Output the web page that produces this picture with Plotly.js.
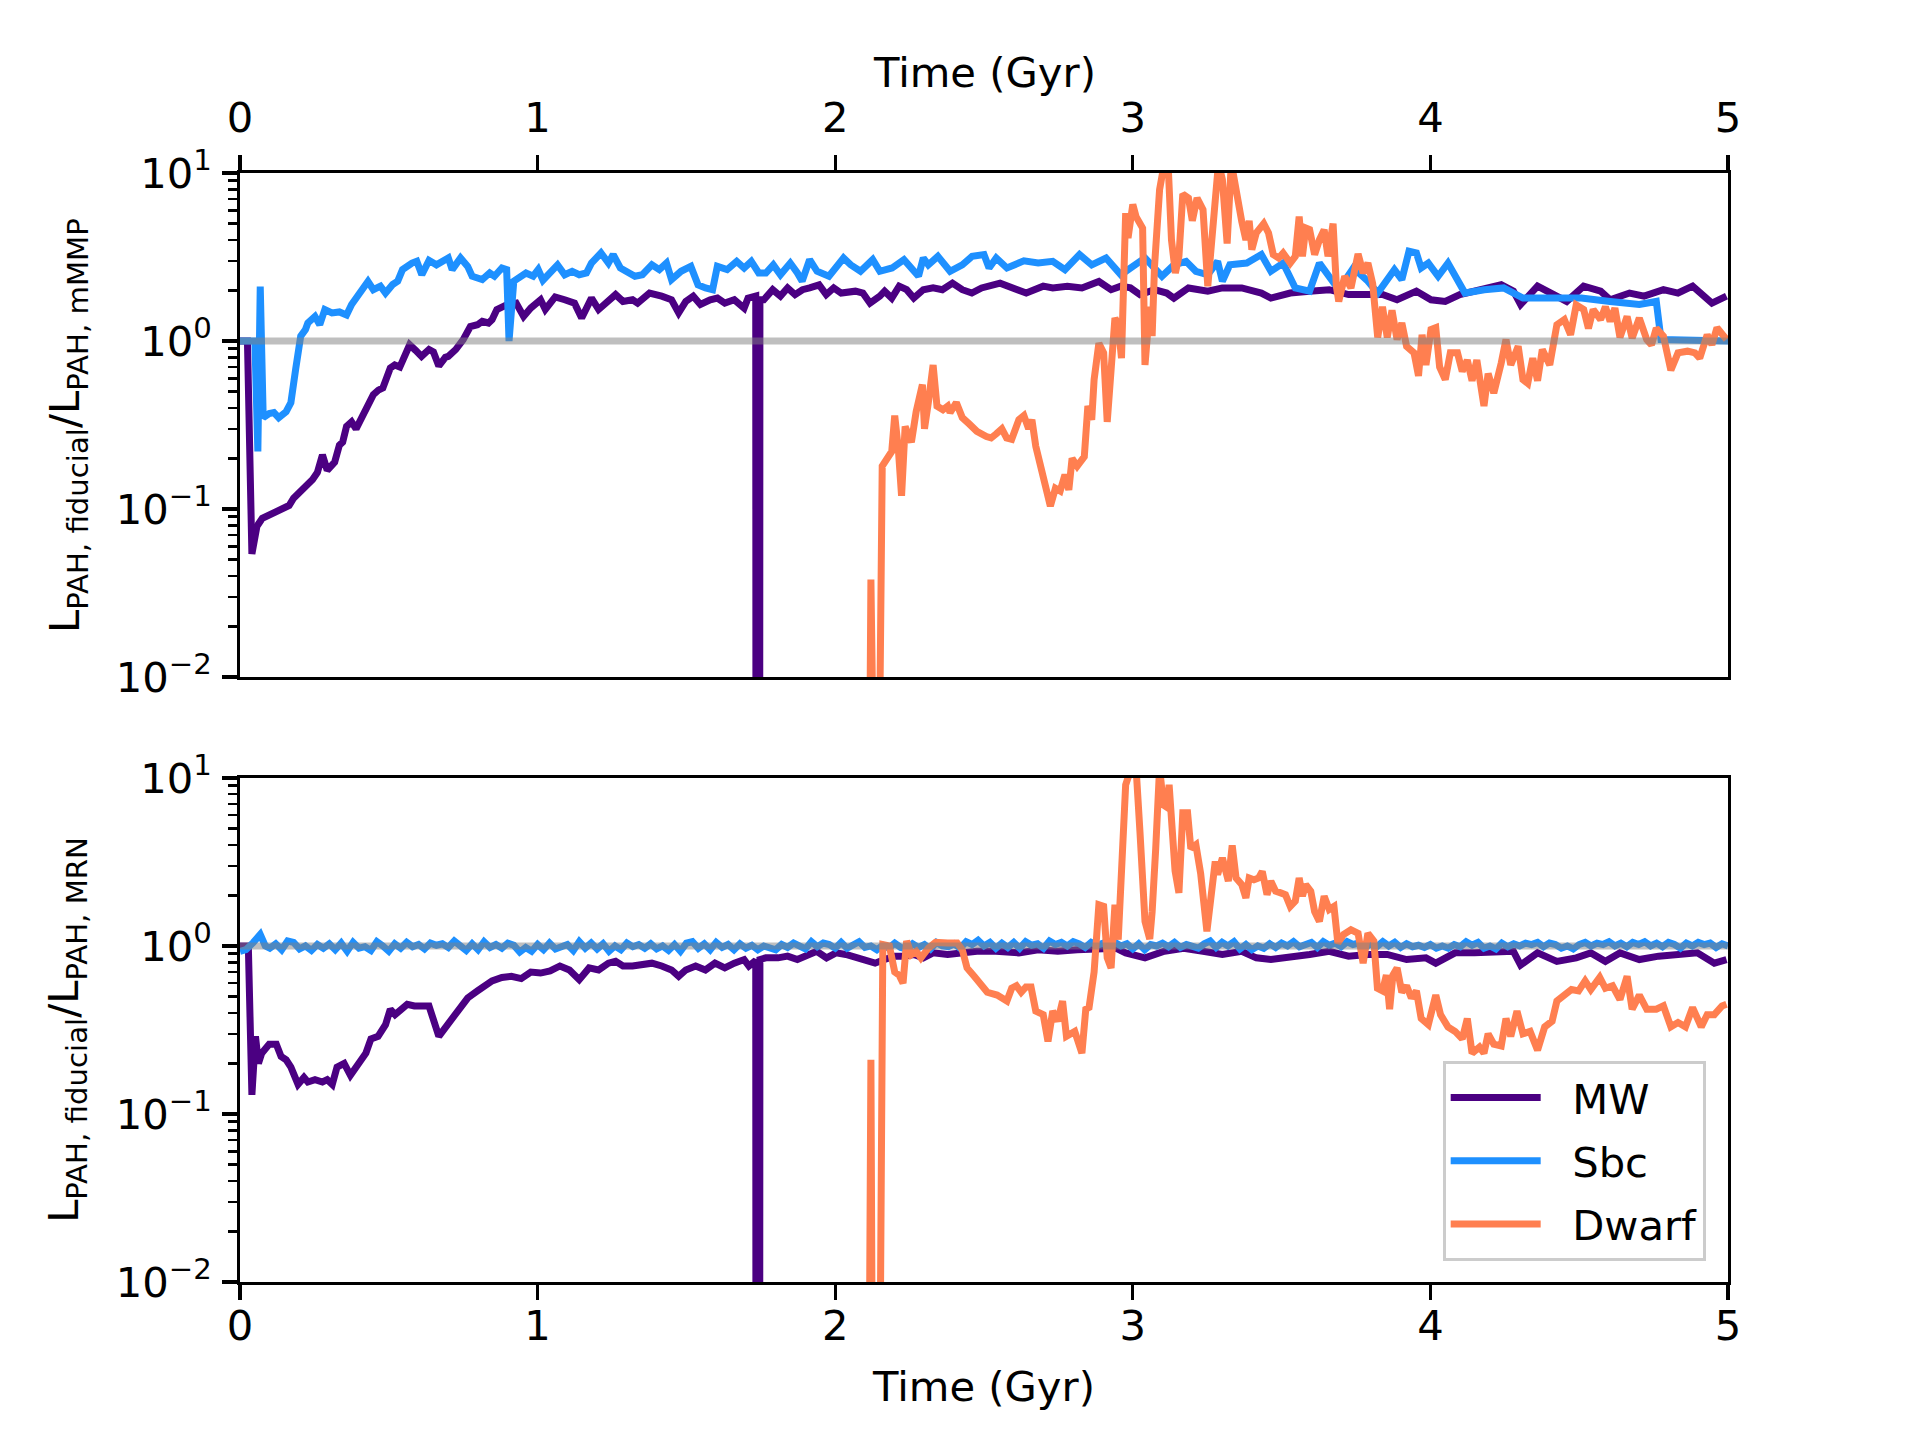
<!DOCTYPE html>
<html>
<head>
<meta charset="utf-8">
<script src="https://cdn.plot.ly/plotly-3.0.1.min.js"></script>
<style>html,body{margin:0;padding:0;background:#fff;}#chart{width:1920px;height:1440px;}</style>
</head>
<body>
<div id="chart"></div>
<script>
// ---------- Data ----------
const seriesNames = ["MW", "Sbc", "Dwarf"];
const seriesColors = ["#4B0082", "#1E90FF", "#FF7F50"];
const yTickVals = [0.01, 0.1, 1, 10];
const yTickText = ["10<sup>−2</sup>", "10<sup>−1</sup>", "10<sup>0</sup>", "10<sup>1</sup>"];
const xTickVals = [0, 1, 2, 3, 4, 5];
const xTitle = "Time (Gyr)";
const yTitleTop = "L<sub>PAH, fiducial</sub>/L<sub>PAH, mMMP</sub>";
const yTitleBottom = "L<sub>PAH, fiducial</sub>/L<sub>PAH, MRN</sub>";

// Top panel (fiducial / mMMP)
const topMW_t = [0,0.025,0.04,0.057,0.075,0.098,0.12,0.147,0.165,0.18,0.2,0.21,0.23,0.244,0.26,0.277,0.293,0.31,0.318,0.334,0.345,0.358,0.375,0.39,0.415,0.43,0.448,0.465,0.48,0.505,0.52,0.537,0.57,0.59,0.61,0.635,0.65,0.668,0.69,0.70,0.725,0.75,0.774,0.798,0.814,0.835,0.847,0.863,0.896,0.928,0.953,0.977,1.01,1.026,1.059,1.091,1.124,1.148,1.181,1.205,1.238,1.262,1.287,1.319,1.336,1.376,1.417,1.45,1.474,1.498,1.523,1.547,1.58,1.604,1.629,1.661,1.694,1.707,1.733,1.734,1.746,1.747,1.76,1.79,1.816,1.84,1.865,1.89,1.914,1.946,1.97,1.995,2.02,2.068,2.093,2.117,2.15,2.166,2.19,2.215,2.24,2.264,2.296,2.329,2.36,2.394,2.427,2.459,2.492,2.524,2.554,2.642,2.699,2.731,2.78,2.829,2.886,2.927,2.96,2.992,3.024,3.073,3.114,3.138,3.187,3.252,3.301,3.366,3.399,3.432,3.464,3.529,3.594,3.66,3.725,3.79,3.839,3.888,3.953,4.002,4.05,4.099,4.164,4.238,4.279,4.303,4.36,4.409,4.458,4.515,4.572,4.604,4.669,4.718,4.783,4.832,4.881,4.946,4.995];
const topMW_v = [1.0,1.0,0.054,0.079,0.088,0.092,0.095,0.099,0.105,0.116,0.125,0.133,0.14,0.15,0.165,0.21,0.17,0.18,0.19,0.24,0.25,0.31,0.33,0.30,0.37,0.42,0.48,0.51,0.525,0.69,0.72,0.70,0.95,0.88,0.81,0.89,0.86,0.71,0.80,0.81,0.89,1.02,1.22,1.25,1.31,1.28,1.34,1.54,1.64,1.68,1.40,1.57,1.76,1.54,1.83,1.76,1.68,1.37,1.80,1.54,1.76,1.89,1.72,1.76,1.68,1.93,1.85,1.76,1.47,1.72,1.85,1.65,1.76,1.80,1.68,1.76,1.57,1.80,1.85,1e-4,1e-4,1.76,1.76,2.02,1.85,2.07,1.89,2.02,2.07,2.16,1.89,2.07,1.93,1.98,1.93,1.68,1.85,1.98,1.80,2.12,2.02,1.80,2.02,2.07,2.02,2.21,2.02,1.93,2.07,2.16,2.21,1.93,2.12,2.07,2.12,2.07,2.26,2.02,2.12,2.07,1.89,2.02,1.93,1.80,2.07,1.98,2.07,2.07,1.98,1.93,1.80,1.93,1.98,2.02,1.89,1.89,1.89,1.76,1.98,1.76,1.72,1.89,2.02,2.16,1.98,1.65,2.12,1.93,1.72,2.12,1.98,1.76,1.93,1.85,2.02,1.93,2.12,1.68,1.85];

const topSbc_t = [0,0.05,0.06,0.068,0.078,0.098,0.114,0.13,0.155,0.171,0.187,0.204,0.22,0.228,0.252,0.268,0.285,0.309,0.334,0.358,0.375,0.4,0.43,0.448,0.472,0.489,0.513,0.53,0.546,0.578,0.594,0.611,0.635,0.66,0.684,0.7,0.713,0.741,0.765,0.78,0.814,0.839,0.855,0.88,0.896,0.904,0.92,0.945,0.961,0.985,1.002,1.018,1.042,1.067,1.091,1.116,1.14,1.164,1.181,1.213,1.238,1.254,1.278,1.303,1.327,1.352,1.384,1.409,1.433,1.45,1.482,1.515,1.539,1.564,1.588,1.604,1.637,1.669,1.694,1.718,1.743,1.767,1.792,1.816,1.849,1.873,1.889,1.914,1.939,1.979,2.028,2.052,2.085,2.126,2.15,2.191,2.231,2.28,2.296,2.313,2.345,2.386,2.427,2.46,2.5,2.517,2.541,2.577,2.634,2.682,2.731,2.772,2.821,2.862,2.91,2.96,3.008,3.041,3.098,3.138,3.179,3.212,3.252,3.285,3.301,3.326,3.383,3.432,3.464,3.505,3.546,3.594,3.627,3.66,3.692,3.741,3.79,3.823,3.879,3.904,3.928,3.953,3.969,3.993,4.026,4.059,4.1,4.116,4.181,4.246,4.311,4.409,4.507,4.604,4.702,4.759,4.775,5.0];
const topSbc_v = [1.0,1.0,0.22,2.11,0.35,0.37,0.375,0.35,0.38,0.43,0.68,1.07,1.17,1.28,1.40,1.25,1.54,1.47,1.49,1.43,1.65,1.93,2.26,2.02,2.12,1.93,2.17,2.27,2.66,2.91,2.98,2.48,3.02,2.84,2.98,3.12,2.66,3.12,2.78,2.43,2.32,2.54,2.43,2.72,2.66,1.0,2.27,2.43,2.54,2.43,2.66,2.30,2.54,2.84,2.48,2.60,2.48,2.54,2.91,3.34,2.91,3.27,2.72,2.54,2.43,2.48,2.84,2.66,2.91,2.32,2.60,2.78,2.16,2.07,2.02,2.78,2.66,2.98,2.72,2.98,2.54,2.54,2.84,2.48,2.91,2.54,2.27,3.05,2.60,2.43,3.12,2.84,2.60,3.05,2.60,2.72,3.05,2.43,3.12,2.84,3.19,2.60,2.84,3.19,3.27,2.72,3.12,2.72,3.0,2.91,2.98,2.66,3.27,2.84,3.12,2.48,2.84,3.12,2.43,2.84,2.98,2.60,2.48,2.98,2.27,2.84,2.91,3.27,2.60,2.91,2.07,1.98,2.91,2.38,2.02,2.72,2.27,1.93,2.66,2.32,3.42,3.34,2.72,2.91,2.43,2.91,2.12,1.93,2.02,2.07,1.80,1.80,1.80,1.72,1.65,1.72,1.02,1.0];

const topDwarf_t = [2.11,2.12,2.125,2.14,2.158,2.19,2.2,2.212,2.223,2.235,2.256,2.272,2.293,2.3,2.313,2.329,2.342,2.362,2.378,2.386,2.407,2.427,2.451,2.476,2.508,2.524,2.541,2.56,2.576,2.593,2.617,2.634,2.65,2.661,2.674,2.69,2.707,2.723,2.74,2.756,2.772,2.785,2.796,2.813,2.837,2.849,2.862,2.87,2.886,2.902,2.914,2.927,2.94,2.951,2.962,2.976,2.984,3.0,3.011,3.033,3.041,3.057,3.065,3.073,3.09,3.106,3.119,3.13,3.143,3.155,3.168,3.187,3.2,3.216,3.236,3.252,3.265,3.277,3.288,3.301,3.317,3.331,3.35,3.366,3.38,3.391,3.4,3.415,3.44,3.456,3.472,3.49,3.505,3.529,3.546,3.559,3.57,3.581,3.594,3.611,3.627,3.643,3.656,3.673,3.684,3.692,3.712,3.733,3.757,3.774,3.79,3.806,3.823,3.839,3.855,3.871,3.888,3.904,3.92,3.945,3.96,3.972,3.985,4.002,4.018,4.031,4.05,4.067,4.091,4.107,4.124,4.14,4.156,4.18,4.194,4.213,4.238,4.254,4.27,4.295,4.311,4.327,4.344,4.36,4.376,4.401,4.425,4.45,4.471,4.49,4.515,4.531,4.547,4.572,4.588,4.604,4.62,4.637,4.661,4.678,4.702,4.727,4.743,4.759,4.783,4.808,4.832,4.864,4.889,4.905,4.93,4.946,4.963,4.995];
const topDwarf_v = [1e-4,0.038,1e-4,1e-4,0.18,0.22,0.36,0.23,0.12,0.31,0.25,0.38,0.55,0.30,0.43,0.72,0.41,0.39,0.41,0.375,0.43,0.35,0.32,0.29,0.27,0.265,0.28,0.30,0.265,0.26,0.34,0.36,0.30,0.34,0.236,0.18,0.13,0.104,0.133,0.128,0.16,0.13,0.2,0.18,0.205,0.41,0.34,0.59,0.97,0.85,0.33,0.62,1.37,1.25,0.79,5.77,4.1,6.5,5.5,4.7,0.72,1.6,1.07,2.78,7.95,11.5,11.0,4.0,2.54,3.19,7.5,7.1,5.2,7.1,6.05,2.12,4.0,5.65,11.5,9.13,3.8,11.5,7.0,5.15,4.0,5.2,3.5,4.4,5.0,4.4,3.27,3.12,3.34,2.91,3.19,5.5,3.19,4.7,4.6,3.27,4.0,4.6,3.19,5.0,2.12,1.72,2.43,2.07,3.3,2.54,2.91,2.2,1.05,1.6,1.05,1.52,1.02,1.28,0.93,0.85,0.62,1.09,0.72,1.17,1.2,0.70,0.59,0.85,0.85,0.66,0.77,0.58,0.77,0.41,0.64,0.49,0.74,1.02,0.72,0.93,0.59,0.56,0.79,0.58,0.89,0.72,1.25,1.34,1.09,1.64,1.54,1.19,1.54,1.34,1.6,1.31,1.57,1.05,1.4,1.04,1.37,1.02,0.95,1.19,1.07,0.67,0.85,0.87,0.85,0.79,1.09,0.95,1.2,1.02];

// Bottom panel (fiducial / MRN)
const botMW_t = [0,0.028,0.04,0.052,0.062,0.073,0.098,0.122,0.138,0.155,0.171,0.195,0.215,0.228,0.252,0.277,0.293,0.31,0.326,0.35,0.371,0.399,0.423,0.44,0.464,0.489,0.505,0.521,0.537,0.562,0.586,0.611,0.635,0.668,0.692,0.717,0.741,0.765,0.798,0.822,0.847,0.88,0.912,0.945,0.977,1.01,1.042,1.075,1.107,1.14,1.173,1.205,1.238,1.262,1.287,1.319,1.352,1.384,1.417,1.45,1.474,1.498,1.531,1.564,1.596,1.629,1.661,1.694,1.71,1.733,1.734,1.746,1.747,1.767,1.808,1.84,1.873,1.906,1.938,1.971,2.003,2.036,2.068,2.101,2.134,2.166,2.199,2.231,2.264,2.296,2.329,2.378,2.427,2.476,2.54,2.617,2.682,2.748,2.813,2.878,2.943,2.976,3.041,3.106,3.171,3.236,3.301,3.366,3.415,3.464,3.529,3.594,3.66,3.725,3.79,3.855,3.92,3.985,4.018,4.083,4.148,4.213,4.279,4.303,4.36,4.425,4.49,4.539,4.588,4.637,4.702,4.767,4.832,4.897,4.954,4.995];
const botMW_v = [1.0,1.0,0.13,0.29,0.20,0.23,0.26,0.26,0.22,0.21,0.19,0.15,0.165,0.155,0.16,0.155,0.16,0.15,0.19,0.20,0.17,0.20,0.23,0.28,0.29,0.34,0.42,0.39,0.41,0.45,0.44,0.44,0.44,0.29,0.33,0.37,0.43,0.49,0.54,0.58,0.62,0.65,0.66,0.64,0.70,0.69,0.71,0.76,0.72,0.63,0.74,0.72,0.79,0.81,0.76,0.76,0.77,0.79,0.76,0.72,0.66,0.72,0.76,0.72,0.79,0.74,0.79,0.83,0.76,0.82,1e-4,1e-4,0.83,0.85,0.85,0.87,0.83,0.89,0.93,0.85,0.91,0.89,0.85,0.83,0.79,0.83,0.87,0.87,0.89,0.85,0.91,0.89,0.91,0.93,0.93,0.91,0.95,0.93,0.95,0.95,0.97,0.91,0.85,0.93,0.97,0.93,0.89,0.93,0.85,0.83,0.87,0.89,0.93,0.87,0.89,0.89,0.83,0.85,0.79,0.91,0.91,0.93,0.93,0.77,0.91,0.81,0.85,0.91,0.81,0.91,0.83,0.87,0.89,0.91,0.79,0.83];

const botSbc_t = [0,0.02,0.045,0.068,0.085,0.1,0.12,0.14,0.16,0.18,0.2,0.22,0.24,0.26,0.28,0.3,0.32,0.34,0.36,0.38,0.4,0.42,0.44,0.46,0.48,0.5,0.52,0.54,0.56,0.58,0.6,0.62,0.64,0.66,0.68,0.7,0.72,0.74,0.76,0.78,0.8,0.82,0.84,0.86,0.88,0.9,0.92,0.94,0.96,0.98,1.0,1.02,1.04,1.06,1.08,1.1,1.12,1.14,1.16,1.18,1.2,1.22,1.24,1.26,1.28,1.3,1.32,1.34,1.36,1.38,1.4,1.42,1.44,1.46,1.48,1.5,1.52,1.54,1.56,1.58,1.6,1.62,1.64,1.66,1.68,1.7,1.72,1.74,1.76,1.78,1.8,1.82,1.84,1.86,1.88,1.9,1.92,1.94,1.96,1.98,2.0,2.02,2.04,2.06,2.08,2.1,2.12,2.14,2.16,2.18,2.2,2.22,2.24,2.26,2.28,2.3,2.32,2.34,2.36,2.38,2.4,2.42,2.44,2.46,2.48,2.5,2.52,2.54,2.56,2.58,2.6,2.62,2.64,2.66,2.68,2.7,2.72,2.74,2.76,2.78,2.8,2.82,2.84,2.86,2.88,2.9,2.92,2.94,2.96,2.98,3.0,3.02,3.04,3.06,3.08,3.1,3.12,3.14,3.16,3.18,3.2,3.22,3.24,3.26,3.28,3.3,3.32,3.34,3.36,3.38,3.4,3.42,3.44,3.46,3.48,3.5,3.52,3.54,3.56,3.58,3.6,3.62,3.64,3.66,3.68,3.7,3.72,3.74,3.76,3.78,3.8,3.82,3.84,3.86,3.88,3.9,3.92,3.94,3.96,3.98,4.0,4.02,4.04,4.06,4.08,4.1,4.12,4.14,4.16,4.18,4.2,4.22,4.24,4.26,4.28,4.3,4.32,4.34,4.36,4.38,4.4,4.42,4.44,4.46,4.48,4.5,4.52,4.54,4.56,4.58,4.6,4.62,4.64,4.66,4.68,4.7,4.72,4.74,4.76,4.78,4.8,4.82,4.84,4.86,4.88,4.9,4.92,4.94,4.96,4.98,5.0];
const botSbc_v = [0.93,0.95,1.05,1.17,1.0,0.97,1.03,0.95,1.07,1.05,0.96,1.0,0.94,1.02,0.97,1.03,0.95,1.04,0.93,1.05,0.97,0.99,0.94,1.06,1.0,0.93,1.03,0.97,1.05,0.99,1.02,0.96,1.04,1.01,1.03,0.98,1.07,1.0,0.94,1.03,0.95,1.06,0.98,1.02,0.97,1.04,1.01,0.92,0.98,0.93,1.02,0.95,1.04,0.96,0.99,1.02,0.94,1.06,0.97,1.04,0.96,1.03,0.93,1.0,0.95,1.04,0.99,1.02,0.97,1.03,0.96,1.0,0.94,1.02,0.93,1.04,1.06,0.97,1.03,0.95,1.05,0.98,1.02,0.95,1.03,0.97,1.01,0.95,1.0,0.97,0.95,1.02,0.98,1.04,1.0,0.96,1.06,0.99,1.04,1.02,0.97,1.05,0.97,1.02,1.06,0.98,1.0,0.95,1.01,0.97,1.04,0.98,0.96,1.03,0.98,1.02,0.96,1.05,1.0,0.99,1.03,0.97,1.06,1.02,1.08,1.0,1.05,0.97,1.04,0.98,1.05,0.97,1.06,1.01,1.03,0.97,1.07,1.02,1.05,1.0,1.06,1.03,0.98,1.05,1.01,1.04,0.97,1.05,1.0,1.03,0.96,1.03,0.95,1.02,1.0,1.04,0.99,1.05,0.98,1.02,0.99,0.97,1.03,1.07,0.98,1.05,1.0,1.06,0.96,1.02,0.95,1.0,0.97,1.03,0.98,1.04,1.0,1.06,0.99,1.03,1.05,0.98,1.06,1.01,1.04,0.99,1.06,1.02,1.04,0.98,1.03,0.99,1.06,1.0,1.05,0.98,1.03,0.99,1.01,0.98,1.02,0.97,1.0,0.97,1.02,0.99,1.06,1.01,1.05,0.97,1.0,0.96,1.04,0.99,1.03,1.0,1.04,1.02,1.05,0.99,1.04,1.02,0.97,1.0,0.96,1.02,1.05,1.0,1.04,1.02,1.06,1.0,1.04,0.99,1.05,1.02,1.06,1.0,1.04,0.99,1.05,1.02,0.97,1.04,1.0,1.05,1.02,1.04,0.98,1.03,1.0];

const botDwarf_t = [2.11,2.12,2.128,2.145,2.16,2.182,2.2,2.215,2.228,2.24,2.256,2.272,2.288,2.313,2.337,2.378,2.41,2.427,2.443,2.467,2.5,2.511,2.544,2.577,2.593,2.609,2.625,2.641,2.658,2.674,2.699,2.715,2.731,2.748,2.764,2.777,2.805,2.829,2.842,2.853,2.87,2.886,2.902,2.914,2.927,2.94,2.951,2.967,2.976,2.995,3.011,3.024,3.041,3.057,3.065,3.077,3.09,3.103,3.114,3.122,3.135,3.142,3.155,3.168,3.184,3.195,3.212,3.228,3.249,3.265,3.277,3.285,3.301,3.321,3.334,3.347,3.366,3.38,3.391,3.407,3.423,3.435,3.451,3.464,3.48,3.497,3.513,3.529,3.546,3.559,3.57,3.581,3.598,3.611,3.627,3.643,3.66,3.676,3.689,3.708,3.733,3.757,3.774,3.79,3.81,3.822,3.839,3.852,3.863,3.874,3.888,3.904,3.92,3.936,3.953,3.969,3.993,4.018,4.034,4.059,4.083,4.107,4.124,4.14,4.165,4.18,4.194,4.213,4.238,4.254,4.27,4.291,4.311,4.335,4.36,4.384,4.409,4.425,4.45,4.474,4.498,4.52,4.539,4.569,4.588,4.612,4.637,4.661,4.678,4.702,4.727,4.759,4.783,4.808,4.832,4.857,4.881,4.91,4.93,4.954,4.98,4.995];
const botDwarf_v = [1e-4,0.21,1e-4,1e-4,1.02,1.0,0.7,0.67,0.6,1.07,0.89,0.93,0.85,0.97,1.05,1.04,1.04,0.95,0.74,0.66,0.56,0.53,0.51,0.47,0.56,0.58,0.53,0.57,0.57,0.41,0.39,0.27,0.41,0.357,0.47,0.29,0.31,0.23,0.42,0.43,0.7,1.76,1.72,0.85,0.74,1.76,1.09,3.6,9.1,11.5,11.5,4.8,1.4,1.1,1.6,3.8,11.5,6.9,6.7,9.1,4.8,2.8,2.07,6.2,6.2,3.8,4.0,2.7,1.22,2.27,3.19,2.66,3.34,2.43,3.97,2.54,2.32,1.93,2.54,2.48,2.54,2.78,2.02,2.43,2.12,2.07,2.02,1.72,1.85,2.54,1.98,2.32,2.12,1.60,1.40,1.98,1.65,1.72,1.04,1.17,1.25,1.19,0.79,1.19,1.07,0.56,0.54,0.67,0.42,0.67,0.74,0.53,0.58,0.49,0.54,0.37,0.34,0.51,0.39,0.33,0.31,0.28,0.37,0.23,0.25,0.23,0.30,0.26,0.254,0.37,0.29,0.41,0.30,0.31,0.24,0.33,0.357,0.47,0.51,0.55,0.54,0.62,0.55,0.65,0.56,0.58,0.48,0.66,0.42,0.51,0.42,0.42,0.44,0.33,0.35,0.33,0.43,0.33,0.39,0.39,0.44,0.45];

// Reference line at ratio = 1
const refLine_t = [0, 5];
const refLine_v = [1, 1];

// ---------- Figure ----------
const FS = 41.7;
const FONT = "DejaVu Sans, Liberation Sans, sans-serif";
const LW = 7;
const NB = "\u00a0\u00a0";

function line(t, v, i, xa, ya, showleg) {
  return {x: t, y: v, type: "scatter", mode: "lines", name: NB + seriesNames[i],
          line: {color: seriesColors[i], width: LW}, xaxis: xa, yaxis: ya,
          legendgroup: "g" + i, showlegend: showleg, hoverinfo: "skip"};
}
function ref(xa, ya) {
  return {x: refLine_t, y: refLine_v, type: "scatter", mode: "lines",
          line: {color: "rgba(128,128,128,0.5)", width: 7}, xaxis: xa, yaxis: ya,
          showlegend: false, hoverinfo: "skip"};
}

const traces = [
  line(topMW_t, topMW_v, 0, "x", "y", false),
  line(topSbc_t, topSbc_v, 1, "x", "y", false),
  line(topDwarf_t, topDwarf_v, 2, "x", "y", false),
  ref("x", "y"),
  line(botMW_t, botMW_v, 0, "x2", "y2", true),
  line(botSbc_t, botSbc_v, 1, "x2", "y2", true),
  line(botDwarf_t, botDwarf_v, 2, "x2", "y2", true),
  ref("x2", "y2")
];

const minorVals = [];
[0.01, 0.1, 1].forEach(d => { for (let k = 2; k <= 9; k++) minorVals.push(+(d * k).toPrecision(3)); });

function xAxis(side, anchor, lblOff, title) {
  const ax = {
    range: [0, 5], tickmode: "array", tickvals: xTickVals, ticktext: xTickVals.map(String),
    side: side, anchor: anchor, ticks: "outside", ticklen: 14.6, tickwidth: 3.3, tickcolor: "black",
    showline: true, linecolor: "black", linewidth: 3.3, mirror: true, showgrid: false, zeroline: false,
    tickfont: {family: FONT, size: FS, color: "black"}, ticklabelstandoff: lblOff
  };
  if (title) ax.title = {text: title, font: {family: FONT, size: FS, color: "black"}, standoff: 24};
  return ax;
}
function yAxis(domain, anchor) {
  return {
    type: "log", range: [-2, 1], domain: domain, anchor: anchor,
    tickmode: "array", tickvals: yTickVals, ticktext: yTickText,
    ticks: "outside", ticklen: 14.6, tickwidth: 3.3, tickcolor: "black",
    minor: {tickmode: "array", tickvals: minorVals, ticks: "outside", ticklen: 8.3, tickwidth: 2.5, tickcolor: "black", showgrid: false},
    showline: true, linecolor: "black", linewidth: 3.3, mirror: true, showgrid: false, zeroline: false,
    tickfont: {family: FONT, size: FS, color: "black"}, ticklabelstandoff: 2
  };
}

const titleFont = {family: FONT, size: FS, color: "black"};
const layout = {
  width: 1920, height: 1440,
  margin: {l: 240, r: 192, t: 173, b: 158, pad: 0},
  paper_bgcolor: "white", plot_bgcolor: "white",
  font: {family: FONT, size: FS, color: "black"},
  xaxis: xAxis("top", "y", 6, null),
  yaxis: yAxis([0.5455, 1], "x"),
  xaxis2: xAxis("bottom", "y2", -10, xTitle),
  yaxis2: yAxis([0, 0.4545], "x2"),
  annotations: [
    {text: xTitle, xref: "paper", yref: "paper", x: 0.5, y: 1.0902, xanchor: "center", yanchor: "middle", showarrow: false, font: titleFont},
    {text: yTitleTop, xref: "paper", yref: "paper", x: -0.1163, y: 0.7727, xanchor: "center", yanchor: "middle", textangle: -90, showarrow: false, font: titleFont},
    {text: yTitleBottom, xref: "paper", yref: "paper", x: -0.1163, y: 0.2273, xanchor: "center", yanchor: "middle", textangle: -90, showarrow: false, font: titleFont}
  ],
  showlegend: true,
  legend: {x: 0.985, xanchor: "right", y: 0.019, yanchor: "bottom",
           bgcolor: "rgba(255,255,255,0.8)", bordercolor: "#cccccc", borderwidth: 3,
           font: {family: FONT, size: FS, color: "black"}, tracegroupgap: 6, itemwidth: 90}
};

Plotly.newPlot("chart", traces, layout, {displayModeBar: false, staticPlot: true});
</script>
</body>
</html>
